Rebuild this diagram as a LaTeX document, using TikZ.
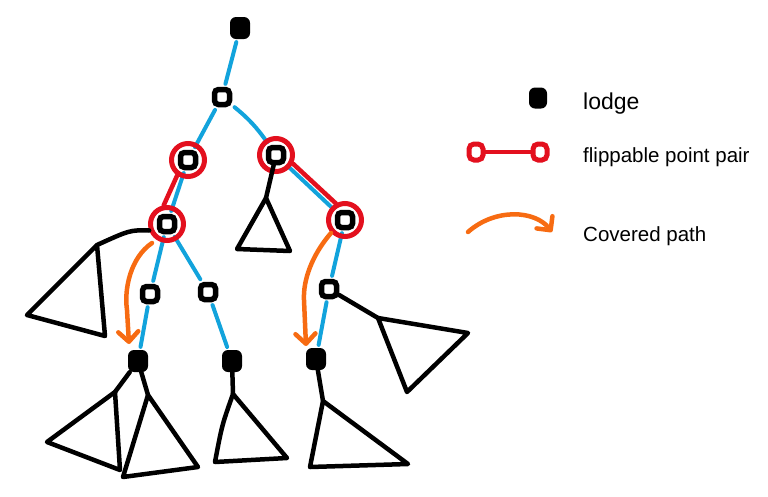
\documentclass[tikz,border=0pt]{standalone}
\usepackage{fontspec}
\setmainfont{Liberation Sans}
\usetikzlibrary{arrows.meta,backgrounds}
\definecolor{inkblue}{HTML}{12A3DC}
\definecolor{inkred}{HTML}{E3101E}
\definecolor{inkorange}{HTML}{F76B12}
\begin{document}
\begin{tikzpicture}[x=1pt,y=-1pt,
  lw/.style={line width=4.5pt, line cap=round, line join=round},
  blk/.style={lw, draw=black},
  blu/.style={line width=4pt, line cap=round, draw=inkblue, shorten <=3pt, shorten >=3pt},
  rd/.style={lw, draw=inkred},
  org/.style={lw, draw=inkorange, -{Straight Barb[length=10pt,width=20pt,line cap=round,line join=round]}},
  sq/.style={draw=black, line width=5.5pt, rounded corners=4pt, minimum size=15pt, inner sep=0pt, fill=white},
  lodge/.style={fill=black, rounded corners=6pt, minimum width=20pt, minimum height=22pt, inner sep=0pt},
  ring/.style={circle, draw=inkred, line width=5pt, minimum size=33pt, inner sep=0pt},
  minring/.style={draw=inkred, line width=5pt, rounded corners=5pt, minimum width=14pt, minimum height=16pt, inner sep=0pt, fill=white},
  lbl/.style={anchor=base west, inner sep=0pt, font=\fontsize{20.5}{24}\selectfont}
]
\path[use as bounding box] (0,0) rectangle (768,496);

% tree nodes
\node[lodge] (R) at (240,28) {};
\node[sq] (n1) at (222,97) {};
\node[ring] (n2r) at (188,160) {}; \node[sq] (n2) at (188,160) {};
\node[ring] (n3r) at (276,155) {}; \node[sq] (n3) at (276,155) {};
\node[ring] (n4r) at (167,224) {}; \node[sq] (n4) at (167,224) {};
\node[ring] (n5r) at (345,220) {}; \node[sq] (n5) at (345,220) {};
\node[sq] (a) at (150,294) {};
\node[sq] (b) at (208,292) {};
\node[sq] (c) at (329,289) {};
\node[lodge] (L1) at (138,361) {};
\node[lodge] (L2) at (232,361) {};
\node[lodge] (L3) at (316,359) {};

\begin{scope}[on background layer]
  % blue tree edges
  \draw[blu] (R) -- (n1);
  \draw[blu] (n1) -- (n2);
  \draw[blu] (n1) to[bend left=8] (n3);
  \draw[blu] (n2) -- (n4);
  \draw[blu] (n3) -- (n5);
  \draw[blu] (n4) -- (a);
  \draw[blu] (a) -- (L1);
  \draw[blu] (n4) -- (b);
  \draw[blu] (b) -- (L2);
  \draw[blu] (n5) -- (c);
  \draw[blu] (c) -- (L3);
  % red flippable pairs
  \draw[rd] (n2r.235) -- (n4r.100);
  \draw[rd] (n3r.333) -- (n5r.119);
\end{scope}

% subtrees
\coordinate (t1) at (266,198);
\draw[blk] (n3) -- (t1);
\draw[blk] (t1) -- (237,249) -- (290,251) -- cycle;

\coordinate (t2) at (97,245);
\draw[blk] (n4r.200) .. controls (130,230) .. (t2);
\draw[blk] (t2) -- (27,315) -- (105,336) -- cycle;

\coordinate (t3) at (378,318);
\draw[blk] (c) -- (t3);
\draw[blk] (t3) -- (468,333) -- (407,392) -- cycle;

\coordinate (t4) at (115,392);
\coordinate (t5) at (148,395);
\draw[blk] (L1) -- (t4);
\draw[blk] (L1) -- (t5);
\draw[blk] (t4) -- (47,442) -- (120,470) -- cycle;
\draw[blk] (t5) -- (123,477) -- (198,467) -- cycle;

\coordinate (t6) at (233,394);
\draw[blk] (L2) -- (t6);
\draw[blk] (t6) .. controls (222,425) .. (215,462) -- (287,458) -- cycle;

\coordinate (t7) at (323,401);
\draw[blk] (L3) -- (t7);
\draw[blk] (t7) -- (310,467) -- (408,464) -- cycle;

% covered paths
\coordinate (o1s) at (152,243);
\coordinate (o1e) at (129,344);
\draw[org] (o1s) .. controls (130,258) and (124,290) .. (127,310) -- (o1e);
\coordinate (o2s) at (331,233);
\coordinate (o2e) at (306,346);
\draw[org] (o2s) .. controls (312,255) and (303,280) .. (304,300) -- (o2e);

% legend
\node[lodge, minimum width=18pt, minimum height=21pt] (lg1) at (538,98) {};
\node[lbl, font=\fontsize{23}{27}\selectfont] (lt1) at (583,109) {lodge};
\node[minring] (lp1) at (476,152) {};
\node[minring] (lp2) at (540,152) {};
\draw[rd] (lp1) -- (lp2);
\node[lbl] (lt2) at (583,162) {flippable point pair};
\coordinate (o3s) at (468,232);
\coordinate (o3e) at (552,232);
\draw[org] (o3s) .. controls (495,208) and (535,210) .. (o3e);
\node[lbl] (lt3) at (583,241) {Covered path};
\end{tikzpicture}
\end{document}
